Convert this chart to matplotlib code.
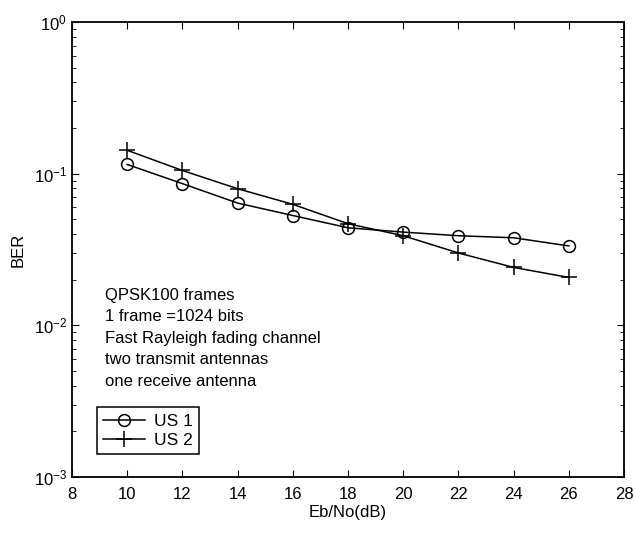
import matplotlib
matplotlib.use('Agg')
import matplotlib.pyplot as plt
import numpy as np

plt.rcParams['font.family'] = ['Liberation Sans', 'DejaVu Sans']
plt.rcParams['mathtext.fontset'] = 'custom'
plt.rcParams['mathtext.rm'] = 'Liberation Sans'
plt.rcParams['axes.unicode_minus'] = False

ebno = [10, 12, 14, 16, 18, 20, 22, 24, 26]
ber_us1 = [0.115, 0.086, 0.064, 0.053, 0.044, 0.0412, 0.039, 0.0378, 0.0334]
ber_us2 = [0.1426, 0.105, 0.0796, 0.0628, 0.0468, 0.039, 0.030, 0.0241, 0.0207]
notes = ['QPSK100 frames', '1 frame =1024 bits', 'Fast Rayleigh fading channel',
         'two transmit antennas', 'one receive antenna']

fig = plt.figure(figsize=(6.35, 5.33), dpi=100)
ax = fig.add_axes([0.1134, 0.105, 0.8693, 0.8537])

ax.semilogy(ebno, ber_us1, color='black', lw=1.1, marker='o', ms=8.5,
            mfc='none', mec='black', mew=1.1, label='US 1')
ax.semilogy(ebno, ber_us2, color='black', lw=1.1, marker='+', ms=11,
            mew=1.1, label='US 2')

ax.set_xlim(8, 28)
ax.set_ylim(1e-3, 1)
ax.set_xticks(np.arange(8, 29, 2))
ax.tick_params(which='both', direction='in', top=True, right=True, labelsize=12)
ax.tick_params(axis='x', pad=7)
ax.tick_params(which='major', length=5)
ax.tick_params(which='minor', length=3)
for s in ax.spines.values():
    s.set_linewidth(1.3)

ax.set_xlabel('Eb/No(dB)', fontsize=12, labelpad=2)
ax.set_ylabel('BER', fontsize=12, labelpad=6)

# annotation block
for i, t in enumerate(notes):
    ax.text(9.2, 10 ** (-1.80 - 0.142 * i), t, fontsize=12, va='center', ha='left')

leg = ax.legend(loc='lower left', bbox_to_anchor=(0.046, 0.05), fontsize=12.5,
                fancybox=False, framealpha=1, edgecolor='black',
                handlelength=2.4, borderpad=0.35, labelspacing=0.25,
                handletextpad=0.5, borderaxespad=0)
leg.get_frame().set_linewidth(1.1)

fig.savefig('out.png', dpi=100)
